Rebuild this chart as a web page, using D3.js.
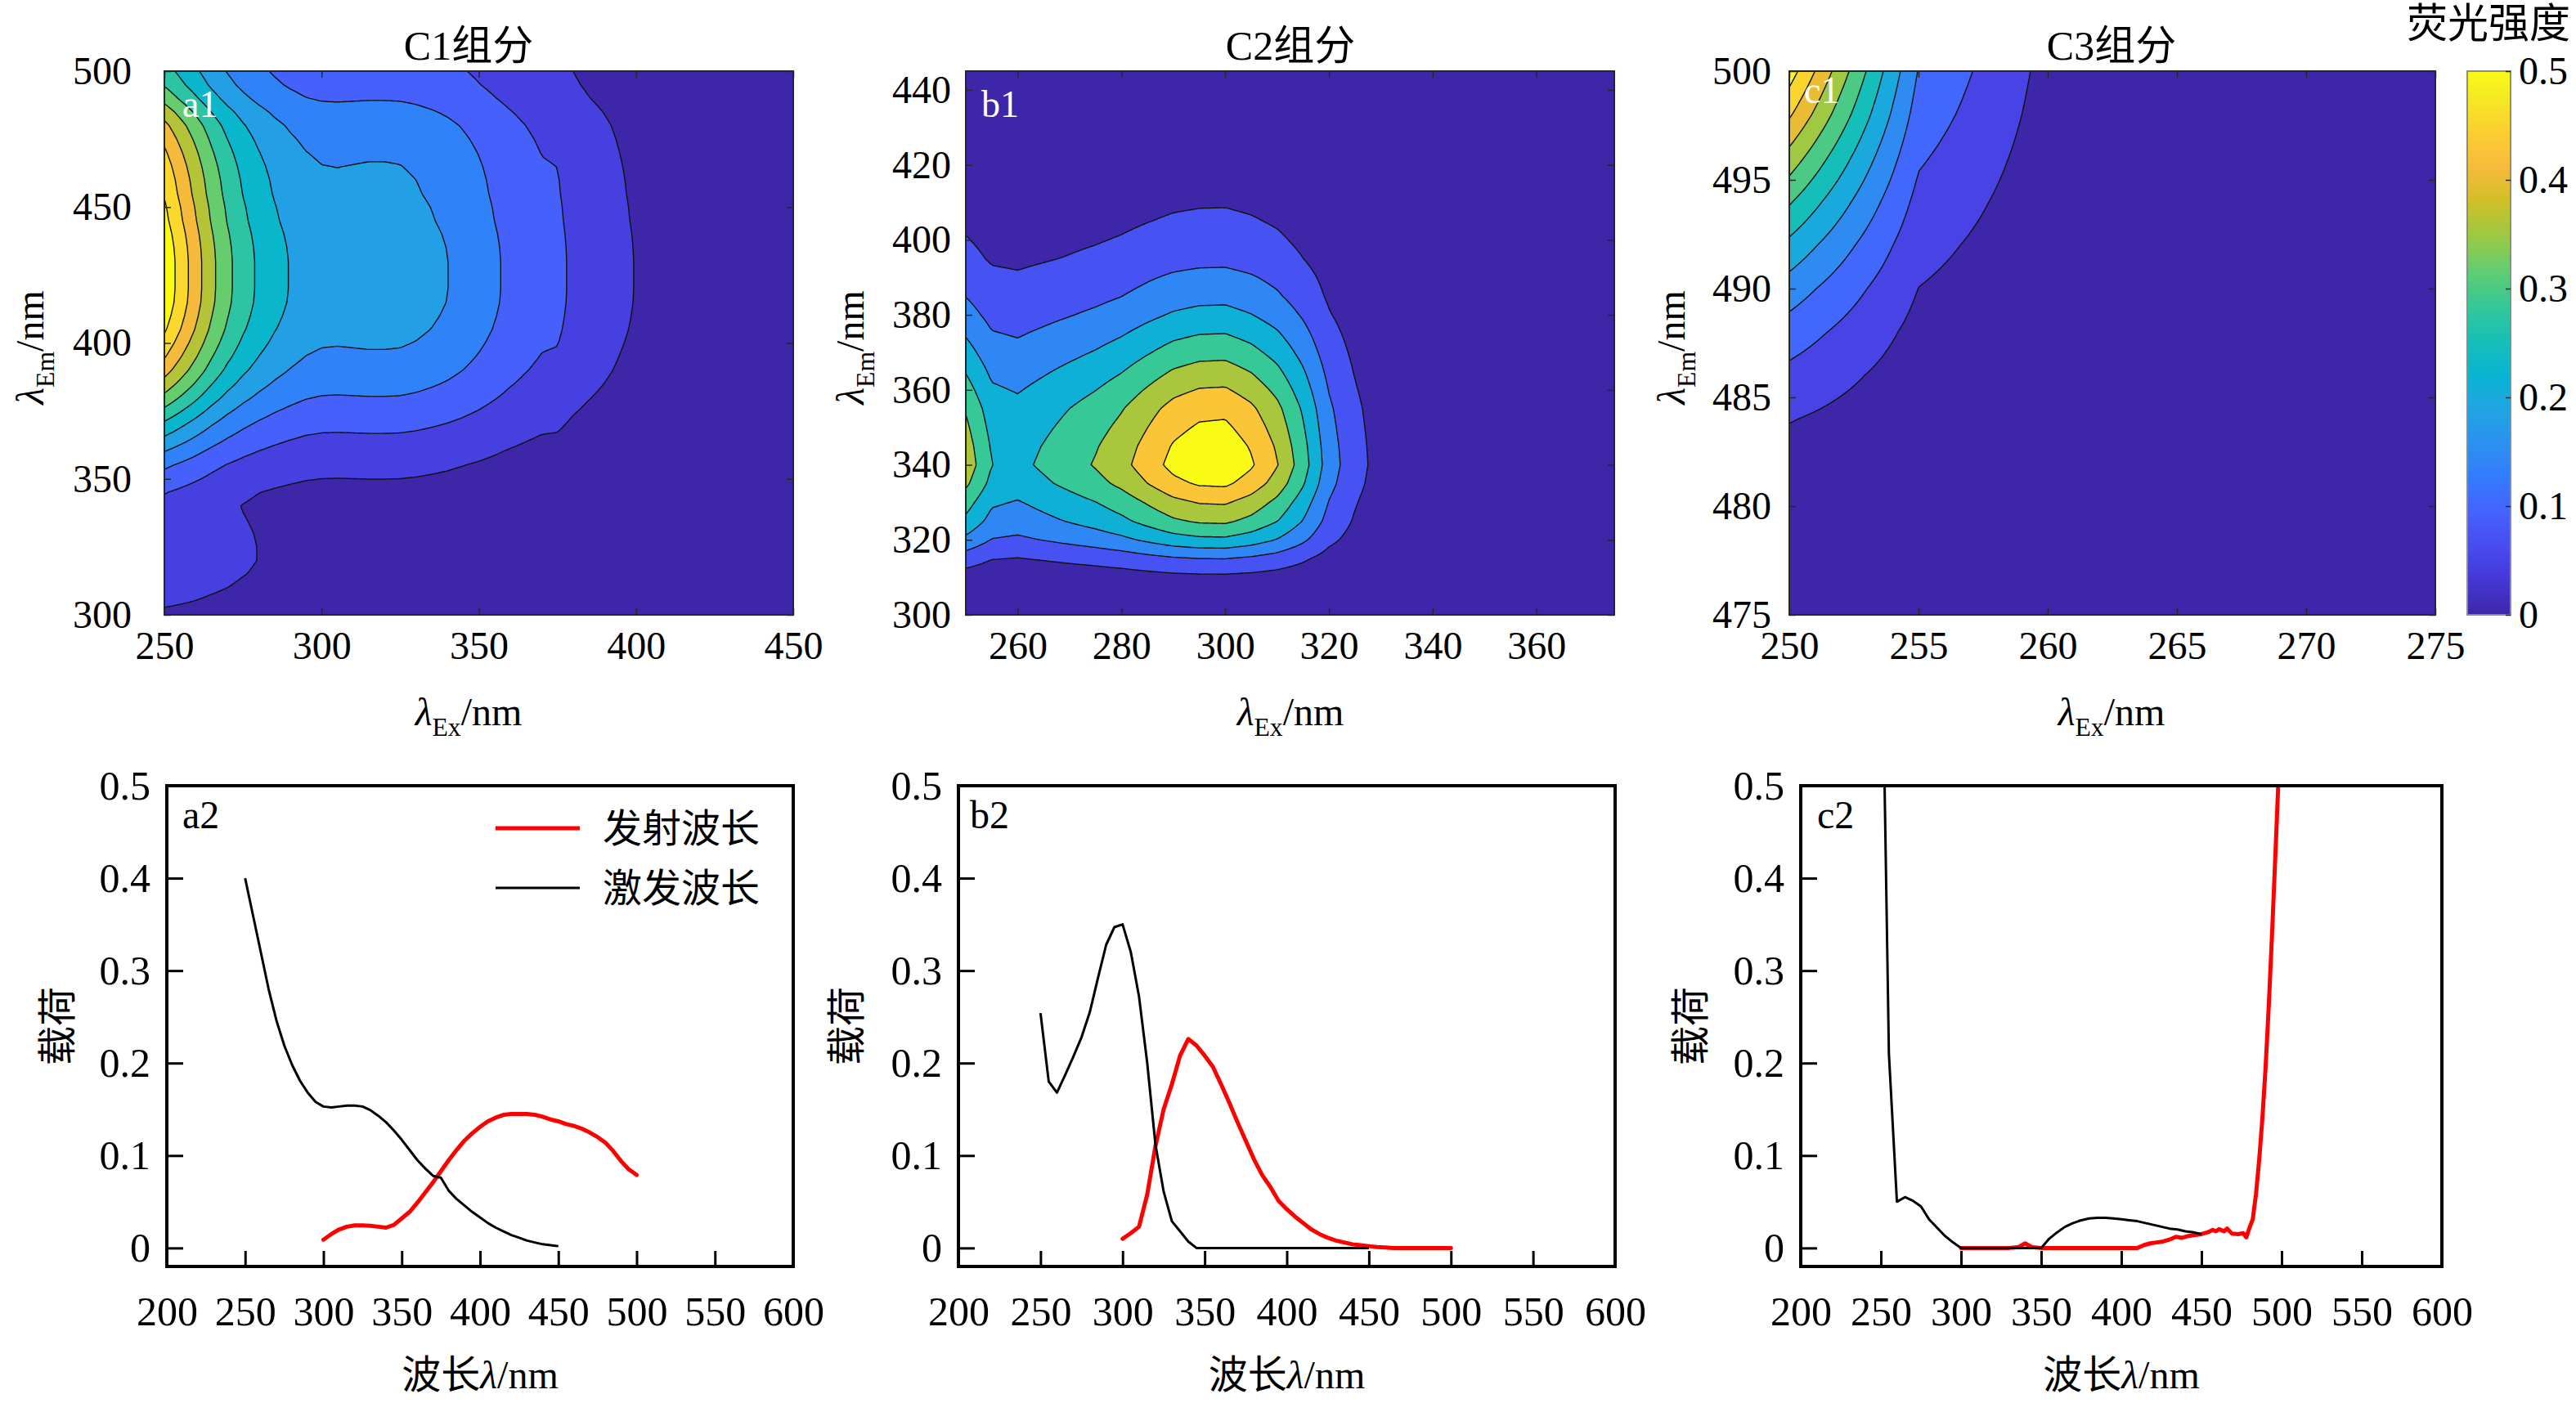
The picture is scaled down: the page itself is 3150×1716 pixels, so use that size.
<!DOCTYPE html>
<html>
<head>
<meta charset="utf-8">
<script src="https://cdn.jsdelivr.net/npm/d3@7"></script>
<style>
  html, body { margin: 0; padding: 0; background: #fff; }
  svg text { font-family: "Liberation Serif", "Times New Roman", "DejaVu Serif", "Noto Sans CJK SC", serif; }
</style>
</head>
<body>
<svg id="chart" width="3150" height="1716"></svg>
<script>
// ---- data: PARAFAC loadings ----
const exWl = [250,255,260,265,270,275,280,285,290,295,300,305,310,315,320,325,330,335,340,345,
              350,355,360,365,370,375,380,385,390,395,400,405,410,415,420,425,430,435,440,445,450];
const emWl = [300,305,310,315,320,325,330,335,340,345,350,355,360,365,370,375,380,385,390,395,
              400,405,410,415,420,425,430,435,440,445,450,455,460,465,470,475,480,485,490,495,500];

const c1Ex = [0.400,0.360,0.320,0.280,0.246,0.219,0.198,0.181,0.168,0.158,0.153,0.152,0.153,0.154,
              0.154,0.153,0.149,0.143,0.136,0.127,0.117,0.106,0.095,0.086,0.078,0.076,0.062,0.053,
              0.046,0.039,0.033,0.027,0.022,0.018,0.014,0.011,0.008,0.006,0.004,0.003,0.002];
const c1Em = [0.009,0.015,0.020,0.023,0.0245,0.0245,0.024,0.023,0.022,0.025,0.032,0.039,0.049,0.060,
              0.071,0.083,0.095,0.106,0.116,0.124,0.131,0.137,0.141,0.144,0.145,0.145,0.145,0.144,
              0.142,0.139,0.137,0.134,0.132,0.129,0.125,0.120,0.114,0.105,0.094,0.085,0.079];

const c2Ex = [0.254,0.180,0.168,0.187,0.207,0.228,0.255,0.292,0.328,0.347,0.350,0.320,0.272,0.200,
              0.112,0.061,0.029,0.018,0.007,0,0,0,0,0,0,0,0,0,0,0,0,0,0,0,0,0,0,0,0,0,0];
const c2Em = [0.010,0.016,0.023,0.058,0.110,0.150,0.177,0.208,0.226,0.219,0.208,0.196,0.177,0.157,
              0.136,0.116,0.096,0.079,0.066,0.051,0.042,0.034,0.027,0.020,0.015,0.011,0.008,0.006,
              0.004,0.003,0.002,0.001,0.0005,0,0,0,0,0,0,0,0];

const c3ExWl = [250,255,260,265,270,275,280,285,290,295,300,350,355,360,365,370,375,380,385,390,
                395,400,405,410,415,420,425,430,435,440,445,450];
const c3Ex = [0.75,0.21,0.05,0.055,0.051,0.045,0.031,0.022,0.013,0.006,0,0,0.010,0.017,0.023,0.027,
              0.030,0.032,0.0327,0.0327,0.032,0.031,0.030,0.029,0.027,0.025,0.023,0.021,0.020,0.018,
              0.017,0.015];
const c3EmWl = [300,330,336,340,344,350,410,414,418,422,426,430,434,438,442,446,450,454,457,459,
                461,464,466,469,473,476,478,480,482,484,486,488,490,492,494,496,498,500];
const c3Em = [0,0,0.001,0.005,0.001,0,0,0.003,0.005,0.006,0.007,0.009,0.012,0.011,0.013,0.014,0.015,
              0.017,0.0195,0.018,0.0205,0.018,0.021,0.0155,0.015,0.016,0.0115,0.022,0.031,0.058,
              0.095,0.140,0.195,0.262,0.338,0.420,0.505,0.580];

const componentNames = ["C1组分", "C2组分", "C3组分"];
const componentPeak = [0.59, 0.39, 0.525];   // max intensity of each EEM
const levelStep = 0.05;
const colorbarTicks = [0, 0.1, 0.2, 0.3, 0.4, 0.5];
const loadingTicks = [0, 0.1, 0.2, 0.3, 0.4, 0.5];
const wlTicks = [200, 250, 300, 350, 400, 450, 500, 550, 600];
const legendNames = ["发射波长", "激发波长"];

// parula colormap (sampled stops)
const parulaIdx = [0,4,8,12,16,20,24,28,32,36,40,44,48,52,56,60,63];
const parulaRgb = [
  [0.2422,0.1504,0.6603],[0.2706,0.2147,0.8364],[0.2813,0.3006,0.9414],[0.2699,0.3892,0.9906],
  [0.1963,0.4847,0.9892],[0.1687,0.5703,0.9359],[0.1248,0.6459,0.8883],[0.0297,0.7082,0.8163],
  [0.0964,0.7500,0.7120],[0.2161,0.7843,0.5923],[0.3909,0.8029,0.4354],[0.6174,0.7876,0.2612],
  [0.8203,0.7498,0.1535],[0.9728,0.7298,0.2394],[0.9892,0.8136,0.1885],[0.9597,0.9135,0.1423],
  [0.9769,0.9839,0.0805]];
const parula = d3.scaleLinear()
  .domain(parulaIdx.map(i => i / 63))
  .range(parulaRgb.map(c => d3.rgb(c[0] * 255, c[1] * 255, c[2] * 255)))
  .clamp(true);

const FONT = '"Liberation Serif", "Times New Roman", "DejaVu Serif", "Noto Sans CJK SC", serif';
const svg = d3.select("#chart").attr("font-family", FONT);
const defs = svg.append("defs");

function subLabel(g, x, y, pre, sub, post, size, rotate) {
  const t = g.append("text")
    .attr("transform", `translate(${x},${y})` + (rotate ? " rotate(-90)" : ""))
    .attr("text-anchor", "middle")
    .attr("dy", "0.35em")
    .attr("font-size", size)
    .attr("fill", "#000");
  t.append("tspan").text(pre);
  t.append("tspan").attr("font-style", "italic").text("λ");
  if (sub) {
    t.append("tspan").attr("font-size", size * 0.66).attr("dy", size * 0.28).text(sub);
    t.append("tspan").attr("dy", -size * 0.28).text(post);
  } else {
    t.append("tspan").text(post);
  }
}

function styleAxis(a, color, width, size) {
  a.select(".domain").remove();
  a.attr("font-family", FONT);
  a.selectAll("line").attr("stroke", color).attr("stroke-width", width);
  a.selectAll("text").attr("font-size", size).attr("fill", "#000");
}

// ---- top row: EEM contour maps ----
const eemPanels = [
  { left: 201, right: 970, xDom: [250, 450], yDom: [300, 500],
    xTicks: [250, 300, 350, 400, 450], yTicks: [300, 350, 400, 450, 500],
    exWl: exWl, ex: c1Ex, emWl: emWl, em: c1Em, k: 0, tag: "a1", tagX: 223, tagY: 127,
    gap: 40, cx: 573, yLabX: 36 },
  { left: 1181, right: 1974, xDom: [250, 375], yDom: [300, 445],
    xTicks: [260, 280, 300, 320, 340, 360], yTicks: [300, 320, 340, 360, 380, 400, 420, 440],
    exWl: exWl, ex: c2Ex, emWl: emWl, em: c2Em, k: 1, tag: "b1", tagX: 1200, tagY: 127,
    gap: 18, cx: 1578, yLabX: 1039 },
  { left: 2188, right: 2978, xDom: [250, 275], yDom: [475, 500],
    xTicks: [250, 255, 260, 265, 270, 275], yTicks: [475, 480, 485, 490, 495, 500],
    exWl: c3ExWl, ex: c3Ex, emWl: c3EmWl, em: c3Em, k: 2, tag: "c1", tagX: 2206, tagY: 110,
    gap: 22, cx: 2582, yLabX: 2043 }
];
const eTop = 87, eBottom = 752;

eemPanels.forEach((p, pi) => {
  const g = svg.append("g");
  const x = d3.scaleLinear().domain(p.xDom).range([p.left, p.right]);
  const y = d3.scaleLinear().domain(p.yDom).range([eBottom, eTop]);
  const exF = d3.scaleLinear().domain(p.exWl).range(p.ex).clamp(true);
  const emF = d3.scaleLinear().domain(p.emWl).range(p.em).clamp(true);
  const exMax = d3.max(p.ex), emMax = d3.max(p.em);
  const peak = componentPeak[p.k];

  // EEM of a PARAFAC component = excitation loading x emission loading
  const nx = 240, ny = 240;
  const dx = (p.xDom[1] - p.xDom[0]) / (nx - 1);
  const dy = (p.yDom[1] - p.yDom[0]) / (ny - 1);
  const values = new Array(nx * ny);
  for (let j = 0; j < ny; j++) {
    const e = emF(p.yDom[0] + j * dy) / emMax;
    for (let i = 0; i < nx; i++) {
      values[j * nx + i] = peak * e * exF(p.xDom[0] + i * dx) / exMax;
    }
  }
  const levels = d3.range(0, peak, levelStep);
  const contours = d3.contours().size([nx, ny]).thresholds(levels)(values);
  const proj = d3.geoTransform({
    point: function (px, py) {
      this.stream.point(x(p.xDom[0] + (px - 0.5) * dx), y(p.yDom[0] + (py - 0.5) * dy));
    }
  });
  const path = d3.geoPath(proj);

  defs.append("clipPath").attr("id", "eclip" + pi)
    .append("rect").attr("x", p.left).attr("y", eTop)
    .attr("width", p.right - p.left).attr("height", eBottom - eTop);

  g.append("g").attr("clip-path", `url(#eclip${pi})`)
    .selectAll("path").data(contours).join("path")
    .attr("d", path)
    .attr("fill", (d, i) => parula(i / (levels.length - 1)))
    .attr("stroke", (d, i) => (i ? "#111" : "none"))
    .attr("stroke-width", 1.4)
    .attr("stroke-linejoin", "round");

  // axes, MATLAB style (ticks inside, mirrored)
  const ax = g.append("g").attr("transform", `translate(0,${eBottom})`)
    .call(d3.axisBottom(x).tickValues(p.xTicks).tickSize(-8).tickPadding(0));
  ax.selectAll("text").attr("y", 37).attr("dy", "0.35em");
  const ay = g.append("g").attr("transform", `translate(${p.left},0)`)
    .call(d3.axisLeft(y).tickValues(p.yTicks).tickSize(-8).tickPadding(p.gap));
  const at = g.append("g").attr("transform", `translate(0,${eTop})`)
    .call(d3.axisTop(x).tickValues(p.xTicks).tickSize(-8).tickFormat(""));
  const ar = g.append("g").attr("transform", `translate(${p.right},0)`)
    .call(d3.axisRight(y).tickValues(p.yTicks).tickSize(-8).tickFormat(""));
  [ax, ay, at, ar].forEach(a => styleAxis(a, "#262626", 1.5, 48));

  g.append("rect").attr("x", p.left).attr("y", eTop)
    .attr("width", p.right - p.left).attr("height", eBottom - eTop)
    .attr("fill", "none").attr("stroke", "#262626").attr("stroke-width", 2);

  g.append("text").attr("x", p.cx).attr("y", 55).attr("dy", "0.35em")
    .attr("text-anchor", "middle").attr("font-size", 50).text(componentNames[p.k]);
  g.append("text").attr("x", p.tagX).attr("y", p.tagY).attr("dy", "0.35em")
    .attr("font-size", 46).attr("fill", "#fff").text(p.tag);

  subLabel(g, p.cx, 870, "", "Ex", "/nm", 48, false);
  subLabel(g, p.yLabX, 425, "", "Em", "/nm", 48, true);
});

// ---- colorbar ----
const cb = { left: 3017, right: 3070 };
const grad = defs.append("linearGradient").attr("id", "parulaGrad")
  .attr("x1", 0).attr("y1", 1).attr("x2", 0).attr("y2", 0);
d3.range(0, 1.0001, 1 / 63).forEach(t => {
  grad.append("stop").attr("offset", t).attr("stop-color", parula(t));
});
const cbScale = d3.scaleLinear().domain([0, 0.5]).range([eBottom, eTop]);
svg.append("rect").attr("x", cb.left).attr("y", eTop)
  .attr("width", cb.right - cb.left).attr("height", eBottom - eTop)
  .attr("fill", "url(#parulaGrad)").attr("stroke", "#8c8c8c").attr("stroke-width", 2);
const cba = svg.append("g").attr("transform", `translate(${cb.right},0)`)
  .call(d3.axisRight(cbScale).tickValues(colorbarTicks).tickSize(-6).tickPadding(10)
    .tickFormat(d3.format("~g")));
styleAxis(cba, "#262626", 1.5, 48);
svg.append("text").attr("x", 3043).attr("y", 28).attr("dy", "0.35em")
  .attr("text-anchor", "middle").attr("font-size", 50).text("荧光强度");

// ---- bottom row: excitation / emission loadings ----
const loadPanels = [
  { left: 204, right: 970, exWl: exWl, ex: c1Ex, emWl: emWl, em: c1Em, tag: "a2", tagX: 223, yLabX: 70, legend: true },
  { left: 1172, right: 1975, exWl: exWl, ex: c2Ex, emWl: emWl, em: c2Em, tag: "b2", tagX: 1186, yLabX: 1035 },
  { left: 2202, right: 2986, exWl: c3ExWl, ex: c3Ex, emWl: c3EmWl, em: c3Em, tag: "c2", tagX: 2222, yLabX: 2067 }
];
const lTop = 961, lBottom = 1549;

loadPanels.forEach((p, pi) => {
  const g = svg.append("g");
  const x = d3.scaleLinear().domain([200, 600]).range([p.left, p.right]);
  const y = d3.scaleLinear().domain([-0.02, 0.5]).range([lBottom, lTop]);
  const line = d3.line().x(d => x(d[0])).y(d => y(d[1]));

  defs.append("clipPath").attr("id", "lclip" + pi)
    .append("rect").attr("x", p.left).attr("y", lTop)
    .attr("width", p.right - p.left).attr("height", lBottom - lTop);
  const plot = g.append("g").attr("clip-path", `url(#lclip${pi})`);
  plot.append("path").datum(d3.zip(p.emWl, p.em)).attr("d", line)
    .attr("fill", "none").attr("stroke", "#ff0000").attr("stroke-width", 5)
    .attr("stroke-linejoin", "round").attr("stroke-linecap", "round");
  plot.append("path").datum(d3.zip(p.exWl, p.ex)).attr("d", line)
    .attr("fill", "none").attr("stroke", "#000").attr("stroke-width", 3)
    .attr("stroke-linejoin", "round");

  const axl = g.append("g").attr("transform", `translate(0,${lBottom})`)
    .call(d3.axisBottom(x).tickValues(wlTicks).tickSize(0).tickPadding(0));
  axl.selectAll("text").attr("y", 54).attr("dy", "0.35em");
  const axt = g.append("g").attr("transform", `translate(0,${lBottom})`)
    .call(d3.axisBottom(x).tickValues(wlTicks.slice(1, -1)).tickSize(-19).tickFormat(""));
  const ay = g.append("g").attr("transform", `translate(${p.left},0)`)
    .call(d3.axisLeft(y).tickValues(loadingTicks).tickSize(-20).tickPadding(20)
      .tickFormat(d3.format("~g")));
  [axl, axt, ay].forEach(a => styleAxis(a, "#000", 3, 50));

  g.append("rect").attr("x", p.left).attr("y", lTop)
    .attr("width", p.right - p.left).attr("height", lBottom - lTop)
    .attr("fill", "none").attr("stroke", "#000").attr("stroke-width", 4);

  g.append("text").attr("x", p.tagX).attr("y", 996).attr("dy", "0.35em")
    .attr("font-size", 48).text(p.tag);

  subLabel(g, (p.left + p.right) / 2, 1681, "波长", "", "/nm", 48, false);
  g.append("text")
    .attr("transform", `translate(${p.yLabX},1255) rotate(-90)`)
    .attr("text-anchor", "middle").attr("dy", "0.35em")
    .attr("font-size", 48).text("载荷");

  if (p.legend) {
    const lg = g.append("g");
    [["#ff0000", 5, 1013], ["#000", 3, 1086]].forEach((s, i) => {
      lg.append("line").attr("x1", 606).attr("x2", 709).attr("y1", s[2]).attr("y2", s[2])
        .attr("stroke", s[0]).attr("stroke-width", s[1]);
      lg.append("text").attr("x", 737).attr("y", s[2]).attr("dy", "0.35em")
        .attr("font-size", 48).text(legendNames[i]);
    });
  }
});
</script>
</body>
</html>
